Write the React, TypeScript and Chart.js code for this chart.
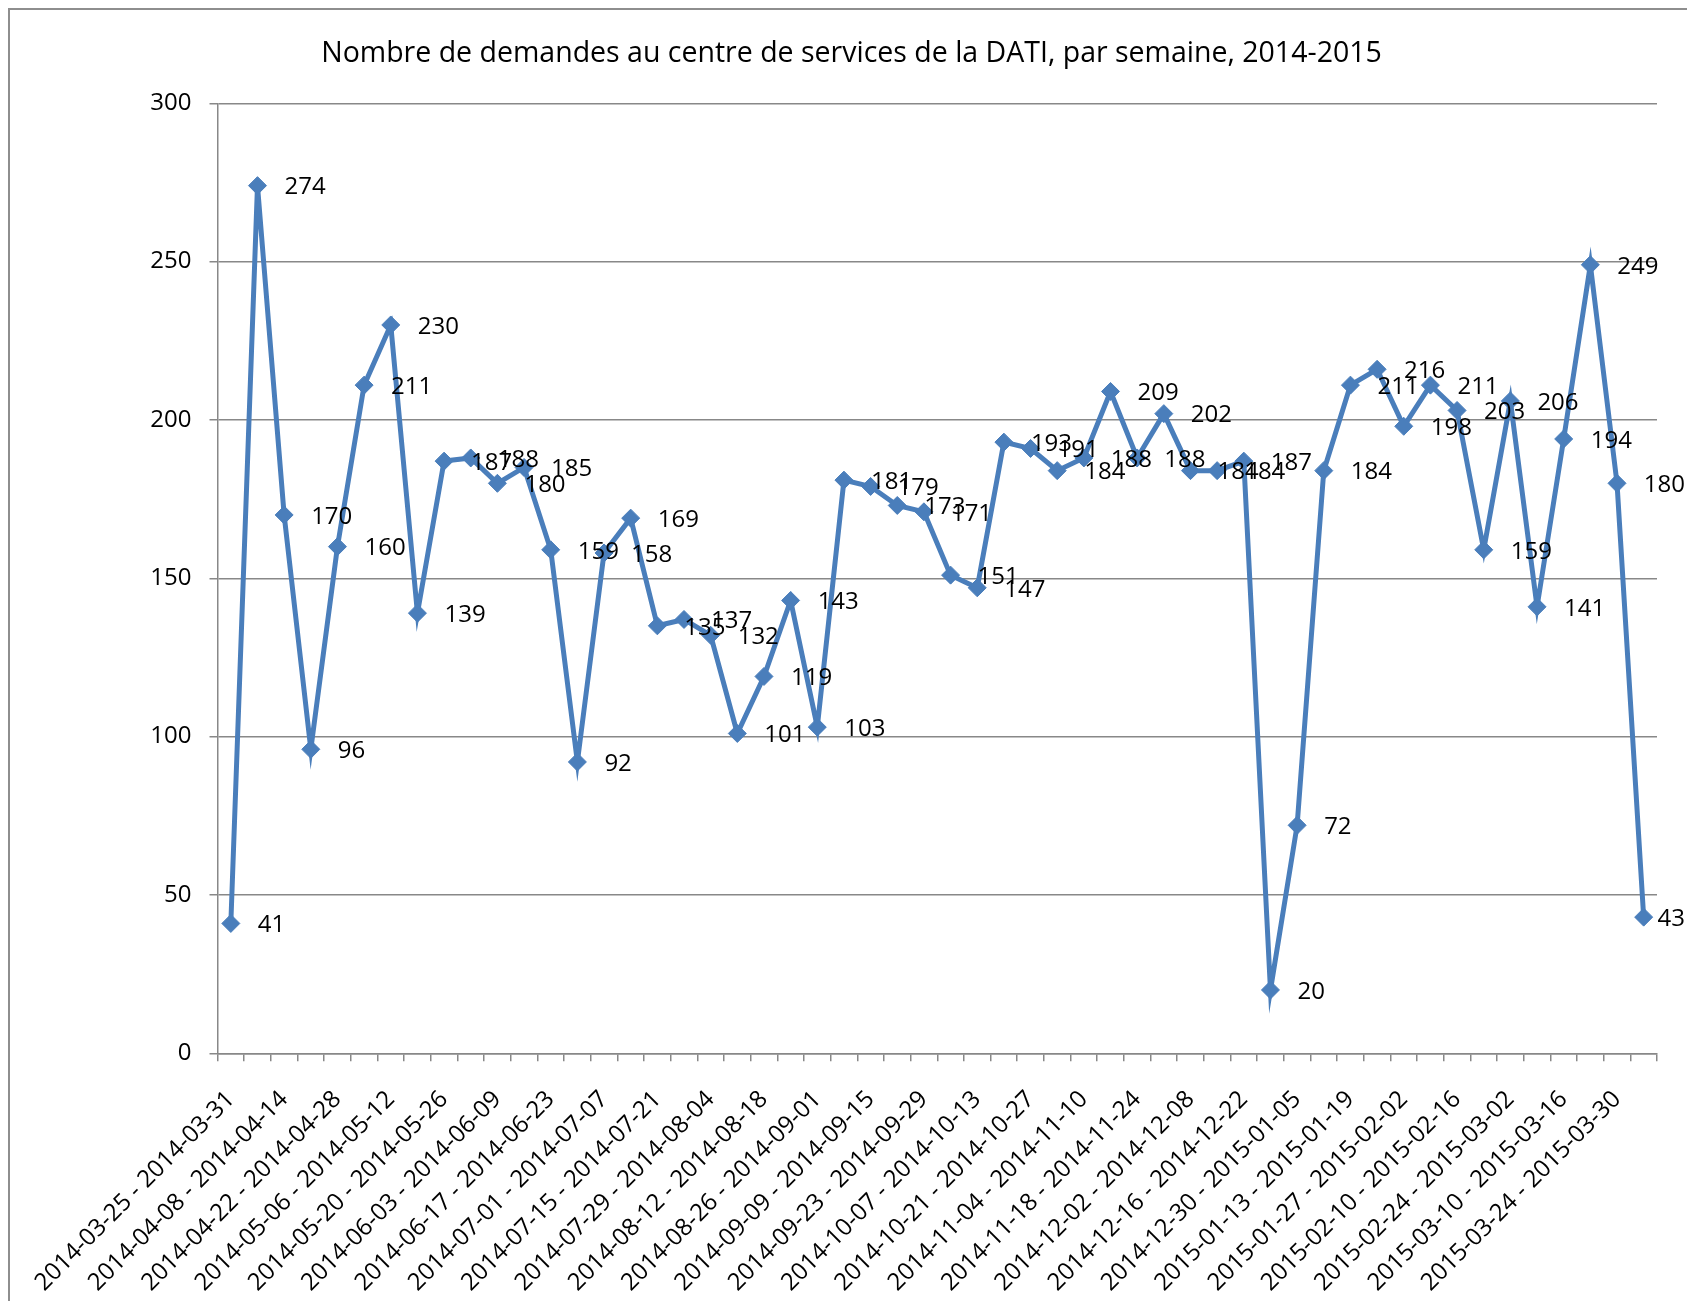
import React, { useEffect, useRef } from 'react';
import { Chart, registerables } from 'chart.js';

Chart.register(...registerables);

const TITLE = 'Nombre de demandes au centre de services de la DATI, par semaine, 2014-2015';

const WEEKS = [
  '2014-03-25 - 2014-03-31', '2014-04-01 - 2014-04-07', '2014-04-08 - 2014-04-14', '2014-04-15 - 2014-04-21',
  '2014-04-22 - 2014-04-28', '2014-04-29 - 2014-05-05', '2014-05-06 - 2014-05-12', '2014-05-13 - 2014-05-19',
  '2014-05-20 - 2014-05-26', '2014-05-27 - 2014-06-02', '2014-06-03 - 2014-06-09', '2014-06-10 - 2014-06-16',
  '2014-06-17 - 2014-06-23', '2014-06-24 - 2014-06-30', '2014-07-01 - 2014-07-07', '2014-07-08 - 2014-07-14',
  '2014-07-15 - 2014-07-21', '2014-07-22 - 2014-07-28', '2014-07-29 - 2014-08-04', '2014-08-05 - 2014-08-11',
  '2014-08-12 - 2014-08-18', '2014-08-19 - 2014-08-25', '2014-08-26 - 2014-09-01', '2014-09-02 - 2014-09-08',
  '2014-09-09 - 2014-09-15', '2014-09-16 - 2014-09-22', '2014-09-23 - 2014-09-29', '2014-09-30 - 2014-10-06',
  '2014-10-07 - 2014-10-13', '2014-10-14 - 2014-10-20', '2014-10-21 - 2014-10-27', '2014-10-28 - 2014-11-03',
  '2014-11-04 - 2014-11-10', '2014-11-11 - 2014-11-17', '2014-11-18 - 2014-11-24', '2014-11-25 - 2014-12-01',
  '2014-12-02 - 2014-12-08', '2014-12-09 - 2014-12-15', '2014-12-16 - 2014-12-22', '2014-12-23 - 2014-12-29',
  '2014-12-30 - 2015-01-05', '2015-01-06 - 2015-01-12', '2015-01-13 - 2015-01-19', '2015-01-20 - 2015-01-26',
  '2015-01-27 - 2015-02-02', '2015-02-03 - 2015-02-09', '2015-02-10 - 2015-02-16', '2015-02-17 - 2015-02-23',
  '2015-02-24 - 2015-03-02', '2015-03-03 - 2015-03-09', '2015-03-10 - 2015-03-16', '2015-03-17 - 2015-03-23',
  '2015-03-24 - 2015-03-30', '2015-03-31 - 2015-04-06',
];

const REQUESTS = [
  41, 274, 170, 96, 160, 211, 230, 139, 187, 188,
  180, 185, 159, 92, 158, 169, 135, 137, 132, 101,
  119, 143, 103, 181, 179, 173, 171, 151, 147, 193,
  191, 184, 188, 209, 188, 202, 184, 184, 187, 20,
  72, 184, 211, 216, 198, 211, 203, 159, 206, 141,
  194, 249, 180, 43,
];

const Y_TICKS = [0, 50, 100, 150, 200, 250, 300];

const BLUE = '#4a7ebb';
const GRID = '#888888';
const FONT = '"Open Sans", "DejaVu Sans", sans-serif';
const TITLE_SIZE = 28.5;

const CANVAS_W = 1683;
const CANVAS_H = 1296;

const pointLabels = {
  id: 'pointLabels',
  afterDatasetsDraw(chart: any) {
    const ctx = chart.ctx;
    const meta = chart.getDatasetMeta(0);
    const data = chart.data.datasets[0].data;
    ctx.save();
    ctx.font = `24px ${FONT}`;
    ctx.fillStyle = '#000';
    ctx.textAlign = 'left';
    ctx.textBaseline = 'middle';
    meta.data.forEach((pt: any, i: number) => {
      const txt = String(data[i]);
      const w = ctx.measureText(txt).width;
      let x = pt.x + 27;
      const maxX = chart.width - 8;
      if (x + w > maxX) x = maxX - w;
      ctx.fillText(txt, x, pt.y + 2);
    });
    ctx.restore();
  },
};

// Title centred on the whole canvas (the Chart.js title only reserves its space)
const centredTitle = {
  id: 'centredTitle',
  afterDraw(chart: any) {
    const ctx = chart.ctx;
    ctx.save();
    ctx.font = `${TITLE_SIZE}px ${FONT}`;
    ctx.fillStyle = '#000';
    ctx.textAlign = 'center';
    ctx.textBaseline = 'middle';
    ctx.fillText(TITLE, chart.width / 2, 44);
    ctx.restore();
  },
};

export default function App() {
  const ref = useRef<HTMLCanvasElement | null>(null);

  useEffect(() => {
    document.documentElement.style.overflow = 'hidden';
    const canvas = ref.current;
    if (!canvas) return;
    const chart = new Chart(canvas, {
      type: 'line',
      data: {
        labels: WEEKS,
        datasets: [
          {
            data: REQUESTS,
            borderColor: BLUE,
            backgroundColor: BLUE,
            borderWidth: 5,
            tension: 0,
            pointStyle: 'rectRot',
            pointRadius: 9,
            pointBorderWidth: 1,
            pointBackgroundColor: BLUE,
            pointBorderColor: BLUE,
            fill: false,
          },
        ],
      },
      options: {
        animation: false,
        responsive: false,
        devicePixelRatio: 1,
        layout: { padding: { left: 0, right: 36, top: 0, bottom: 0 } },
        plugins: {
          legend: { display: false },
          tooltip: { enabled: false },
          title: {
            display: true,
            text: TITLE,
            color: 'rgba(0,0,0,0)',
            font: { family: FONT, size: TITLE_SIZE, weight: 'normal', lineHeight: 1.2 },
            padding: { top: 25.9, bottom: 33.2 },
          },
        },
        scales: {
          x: {
            type: 'category',
            offset: true,
            grid: {
              offset: true,
              drawOnChartArea: false,
              drawTicks: true,
              tickLength: 8,
              color: GRID,
              lineWidth: 1.5,
            },
            border: { color: GRID, width: 1.5 },
            ticks: {
              autoSkip: false,
              minRotation: 45,
              maxRotation: 45,
              padding: 24,
              color: '#000',
              font: { family: FONT, size: 24 },
              callback: (_v: any, i: number) => (i % 2 === 0 ? WEEKS[i] : ''),
            },
            afterFit: (s: any) => {
              s.height = CANVAS_H - 1043.3;
            },
          },
          y: {
            min: 0,
            max: 300,
            grid: {
              color: GRID,
              lineWidth: 1.5,
              drawTicks: true,
              tickLength: 8,
            },
            border: { color: GRID, width: 1.5 },
            ticks: {
              padding: 18,
              color: '#000',
              font: { family: FONT, size: 24 },
            },
            afterBuildTicks: (s: any) => {
              s.ticks = Y_TICKS.map((v) => ({ value: v }));
            },
            afterFit: (s: any) => {
              s.width = 207.5;
            },
          },
        },
      },
      plugins: [pointLabels, centredTitle],
    });
    return () => chart.destroy();
  }, []);

  return (
    <div
      style={{
        width: 1687,
        height: 1300,
        border: '2px solid #8e8e8e',
        boxSizing: 'border-box',
        background: '#fff',
        overflow: 'hidden',
      }}
    >
      <canvas ref={ref} width={CANVAS_W} height={CANVAS_H} style={{ display: 'block' }} />
    </div>
  );
}
